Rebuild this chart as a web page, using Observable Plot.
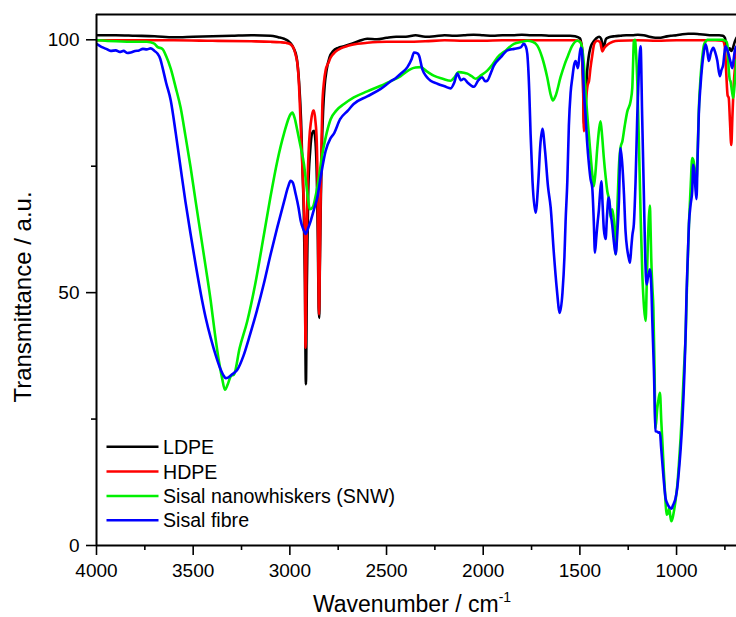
<!DOCTYPE html>
<html><head><meta charset="utf-8">
<script src="https://cdn.jsdelivr.net/npm/d3@7"></script>
<script src="https://cdn.jsdelivr.net/npm/@observablehq/plot@0.6"></script>
<style>
body{margin:0;background:#fff;overflow:hidden}
#wrap{position:relative;width:736px;height:617px}
</style></head><body><div id="wrap"></div>
<script>
// ---------- data ----------
const xDomain = [4000, 690];
const yDomain = [0, 105];
const xMajor = [4000, 3500, 3000, 2500, 2000, 1500, 1000];
const xMinor = [3750, 3250, 2750, 2250, 1750, 1250, 750];
const yMajor = [0, 50, 100];
const yMinor = [25, 75];
const seriesNames = ["LDPE", "HDPE", "Sisal nanowhiskers (SNW)", "Sisal fibre"];
const seriesColors = ["#000000", "#ff0000", "#00f000", "#0000ff"];

const ldpeWn = [4000,3900,3800,3700,3600,3500,3400,3300,3200,3100,3060,3030,3010,2996,2980,2965,2953,2942,2935,2928,2922,2917,2912,2905,2895,2885,2875,2866,2860,2855,2851,2848,2845,2840,2835,2828,2820,2810,2795,2775,2750,2720,2680,2640,2600,2550,2500,2450,2400,2350,2300,2250,2200,2150,2100,2050,2000,1950,1900,1850,1800,1750,1700,1650,1600,1550,1525,1500,1490,1484,1478,1473,1468,1462,1455,1445,1430,1415,1400,1390,1384,1378,1372,1365,1350,1320,1290,1260,1230,1200,1170,1140,1110,1090,1060,1030,1000,970,940,910,880,850,820,800,780,760,750,740,732,725,718,710,700,690];
const ldpeT = [100.9,100.9,100.8,100.7,100.5,100.6,100.7,100.8,100.9,100.8,100.5,100.2,99.8,99.3,98.3,96.5,92,84,75,66,52,31.9,52,70,78,81.5,82,79,72,60,47,45,55,68,78,86,91,94,96.5,97.8,98.4,98.7,99.2,99.8,100.2,100.1,100.4,100.6,100.6,100.9,100.6,100.7,100.9,100.8,100.9,101,100.9,100.8,100.9,100.9,101,100.9,100.9,100.8,100.8,100.8,100.7,100.3,98.5,92,83,83.5,90,94,96.5,98.5,99.6,100.3,100.6,100.2,99.2,98.4,99.2,100.2,100.5,100.7,100.8,100.9,100.9,101,100.9,100.6,100.4,100.4,100.6,100.8,100.9,101.1,101.2,101.2,101.1,101,100.9,100.9,100.9,100.8,100.4,98.5,98,98.3,97.8,98.2,99.5,100.4];

const hdpeWn = [4000,3800,3600,3400,3200,3100,3050,3020,2996,2980,2970,2960,2953,2945,2935,2928,2923,2919,2914,2908,2900,2890,2880,2875,2868,2861,2856,2852,2849,2845,2841,2836,2832,2824,2815,2800,2789,2765,2737,2700,2650,2600,2500,2400,2300,2200,2100,2000,1900,1800,1700,1600,1530,1500,1490,1484,1479,1474,1468,1460,1453,1445,1436,1425,1410,1395,1384,1375,1358,1330,1300,1200,1100,1000,900,800,760,750,743,736,730,724,717,711,704,697,690];
const hdpeT = [99.9,99.9,99.9,99.8,99.7,99.6,99.5,99.4,99.1,98.3,97,95,91.3,84,74.7,68,61.6,39.1,58,72,80,84,86,86,84,80,70,52,45.7,56,68,80,87,91.5,94,95.5,96.5,97.6,98.3,98.8,99.2,99.4,99.6,99.6,99.7,99.9,99.8,99.8,99.9,99.9,99.9,99.9,99.9,99.7,98.8,92,81.9,84,88,91,91.8,94.5,96.9,99.3,99.8,99.5,97.7,98.3,99,99.6,99.8,99.9,99.8,99.9,99.9,99.9,99.8,98.5,93.4,89,88.5,84,79.2,85,91.3,95,98];

const snwWn = [4000,3900,3800,3740,3720,3700,3685,3659,3640,3616,3590,3565,3540,3513,3487,3461,3435,3409,3388,3367,3350,3336,3320,3305,3289,3260,3220,3180,3134,3100,3065,3030,2996,2987,2975,2961,2945,2927,2912,2896,2880,2870,2858,2845,2832,2810,2789,2760,2720,2669,2600,2530,2480,2427,2400,2375,2350,2324,2290,2256,2210,2168,2150,2127,2100,2082,2060,2039,2010,1979,1950,1927,1880,1841,1800,1772,1745,1721,1695,1669,1650,1640,1625,1600,1580,1565,1540,1513,1500,1489,1479,1471,1462,1453,1445,1436,1428,1420,1410,1400,1393,1385,1376,1367,1358,1350,1341,1333,1324,1315,1305,1298,1290,1280,1268,1255,1238,1229,1225,1221,1215,1209,1203,1195,1185,1177,1168,1160,1154,1148,1143,1138,1134,1131,1125,1120,1114,1109,1100,1093,1086,1079,1072,1066,1059,1052,1045,1038,1033,1027,1020,1014,1005,996,988,979,970,962,953,945,936,927,919,911,905,897,890,885,875,867,858,850,841,820,800,780,760,750,743,737,730,724,721,714,707,700,690];
const snwT = [99.9,99.7,99.6,99.6,99.5,99.2,98.6,98.2,96.8,94.3,90.5,86.6,81,74.7,68,61.5,55,48.3,42,36.5,33,30.8,32,33.5,33.8,39,44.4,51.5,61.5,69,76,81.5,85.3,85.6,84.5,82,79,75.4,70.5,66.5,67,68.5,70.8,74,77.4,81.5,84.3,86,87.3,88.6,89.8,90.9,91.8,92.8,93.6,94.2,94.5,94.6,93.7,92.9,92.3,91.9,92.5,93.6,93.5,93.3,92.8,92.3,93,93.9,95.2,96.5,98,99.2,99.6,99.8,99.6,98.9,96.5,92.6,89,88,89,92.6,95,96.5,98.8,99.8,99.6,98.5,95,90,85.2,81,77.3,73.5,71,73.5,78.6,82.5,83.9,81,76.6,73,70,68.5,64.8,66.5,64.2,57.6,68,75,78.6,80,83,85.8,87.8,90.5,95,99.7,100,97,91.6,80,64,53.6,47,44.4,52,60.2,65,67.2,62,56.9,51,47,35,23.2,27,29,30.2,24.6,19.5,14.7,10,6.1,6.3,7.4,6,4.8,5.5,6.7,9,12,16,21.3,28,34.5,41.7,53,63.5,71,76.6,75.9,74,72,79,86,93,96.5,99,99.6,100,100,100,100,100,99.8,99.7,99,94,92,91.8,90,88.5,91,96];

const fibreWn = [4000,3975,3950,3927,3900,3880,3860,3840,3823,3800,3780,3760,3740,3720,3700,3685,3670,3659,3640,3616,3590,3565,3540,3513,3487,3460,3435,3409,3380,3360,3341,3332,3320,3300,3271,3240,3206,3170,3135,3100,3065,3030,3010,2996,2985,2970,2955,2944,2930,2918,2905,2892,2875,2858,2840,2815,2790,2773,2740,2700,2670,2600,2530,2478,2450,2427,2392,2370,2358,2340,2332,2315,2295,2272,2237,2200,2168,2150,2134,2115,2100,2080,2048,2025,2005,1990,1979,1960,1945,1910,1875,1840,1806,1790,1780,1772,1762,1755,1745,1729,1715,1705,1694,1680,1665,1651,1635,1620,1604,1590,1580,1574,1565,1557,1548,1539,1530,1522,1515,1510,1503,1496,1490,1484,1478,1471,1463,1453,1445,1436,1428,1422,1415,1408,1402,1396,1389,1382,1376,1367,1360,1354,1350,1342,1333,1324,1315,1306,1298,1290,1282,1272,1264,1255,1248,1241,1234,1228,1221,1212,1203,1195,1186,1178,1169,1162,1155,1148,1142,1138,1134,1131,1125,1117,1109,1100,1093,1086,1080,1074,1066,1057,1048,1040,1033,1026,1018,1010,1005,996,988,979,970,964,959,953,948,942,936,927,919,914,908,903,897,891,885,876,867,858,850,842,833,822,810,800,790,776,768,759,752,747,740,730,720,712,705,698,690];
const fibreT = [99.2,98.6,98.2,97.8,97.9,97.6,97.8,97.4,97.5,97.8,97.9,98.2,98.1,98.3,97.8,97.3,96.2,94.6,91.5,88,81.5,74.7,68,61.5,55.5,49.7,45,41,37.2,35,33.5,33.1,33.2,33.8,34.8,37.5,41.7,46.5,51.7,57.5,62.9,68,70.8,72.1,71.8,69.5,66.8,64.2,62.5,61.6,62.8,64.2,66.5,68.8,73,78,80.5,81.4,84.3,86,87.3,88.8,90.3,91.8,92.5,93.3,94.6,96.2,97.5,97.3,96.9,94.2,92.8,91.9,91.3,90.8,90.4,91.5,93.3,92,92.3,91.5,90.7,92,92.6,91.8,91.9,93.5,94.9,96.5,97.9,98.2,98.5,99.2,98.7,97.2,90,81.4,72,65.8,72,79,82.4,78,71,66.8,58,51,46,50,57,64,72,83,89.5,92.5,95,95.8,95,94.4,96.5,98.4,98,94,89,85.2,80,75.3,72.5,70.7,64,57.9,61,64,66.2,69.5,72,67,62.5,60.6,65,68.2,68.8,66,63.5,60,57.6,62,68.1,78.6,76,69.5,62.2,58.5,57,55.9,59,61.5,63.5,72,85.2,94,98.7,85,69.3,57,51.6,53,54,54.6,53.5,51.6,44,34.5,22.6,22.5,22.3,22.4,19.5,16.6,12.8,9.4,8.3,7.7,7.4,7.3,8,8.7,9.4,11.5,14.7,19,24.6,29.5,34.5,42,50.3,57,63.5,67.5,70.1,75.3,74,71,68.5,77,85.2,91,95.1,97.8,99.1,98,95.8,97.5,98.4,97.5,96,92.8,94,95,97.5,98.7,98.3,97,95.5,94.4,96,98,98.7];

// ---------- build ----------
const toRows = (wn, t) => wn.map((w, i) => ({wn: w, t: t[i]}));
const series = [
  toRows(ldpeWn, ldpeT),
  toRows(hdpeWn, hdpeT),
  toRows(snwWn, snwT),
  toRows(fibreWn, fibreT)
];

const font = '"Liberation Sans", Arial, Helvetica, sans-serif';

const chart = Plot.plot({
  width: 736,
  height: 617,
  marginLeft: 96,
  marginRight: 0,
  marginTop: 14,
  marginBottom: 72,
  x: {domain: xDomain, label: null},
  y: {domain: yDomain, label: null},
  style: {fontFamily: font, fontSize: "19px", color: "#000", background: "#fff", overflow: "visible"},
  marks: [
    Plot.axisX({ticks: xMinor, tickSize: 5, tickFormat: () => "", label: null, strokeWidth: 1.6}),
    Plot.axisY({ticks: yMinor, tickSize: 5, tickFormat: () => "", label: null, strokeWidth: 1.6}),
    ...series.map((rows, i) => Plot.line(rows, {
      x: "wn", y: "t", stroke: seriesColors[i], strokeWidth: 2.6, curve: "monotone-x", clip: true
    })),
    Plot.axisX({ticks: xMajor, tickSize: 10, tickPadding: 8, tickFormat: d => String(d), label: null, strokeWidth: 1.6}),
    Plot.axisY({ticks: yMajor, tickSize: 10, tickPadding: 7, tickFormat: d => String(d), label: null, strokeWidth: 1.6}),
    Plot.ruleY([yDomain[0]], {stroke: "#000", strokeWidth: 2}),
    Plot.ruleY([yDomain[1]], {stroke: "#000", strokeWidth: 2}),
    Plot.ruleX([xDomain[0]], {stroke: "#000", strokeWidth: 2})
  ]
});

document.getElementById("wrap").appendChild(chart);

// ---------- titles and legend (real text) ----------
const svg = d3.select(chart);
const xt = svg.append("text")
  .attr("x", 412).attr("y", 612)
  .attr("text-anchor", "middle")
  .style("font-family", font).style("font-size", "23px").attr("fill", "#000");
xt.append("tspan").text("Wavenumber / cm");
xt.append("tspan").attr("dy", -10).style("font-size", "14px").text("-1");

svg.append("text")
  .attr("transform", "translate(31,297) rotate(-90)")
  .attr("text-anchor", "middle")
  .style("font-family", font).style("font-size", "24px").attr("fill", "#000")
  .text("Transmittance / a.u.");

const legendY = [446.7, 471.5, 496, 520.3];
const lg = svg.append("g").attr("text-anchor", "start");
seriesNames.forEach((name, i) => {
  lg.append("line")
    .attr("x1", 106.5).attr("x2", 158.5)
    .attr("y1", legendY[i]).attr("y2", legendY[i])
    .attr("stroke", seriesColors[i]).attr("stroke-width", 2.6);
  lg.append("text")
    .attr("x", 163).attr("y", legendY[i] + 7)
    .attr("text-anchor", "start")
    .style("text-anchor", "start")
    .style("font-family", font).style("font-size", "19.6px").attr("fill", "#000")
    .text(name);
});
</script>
</body></html>
